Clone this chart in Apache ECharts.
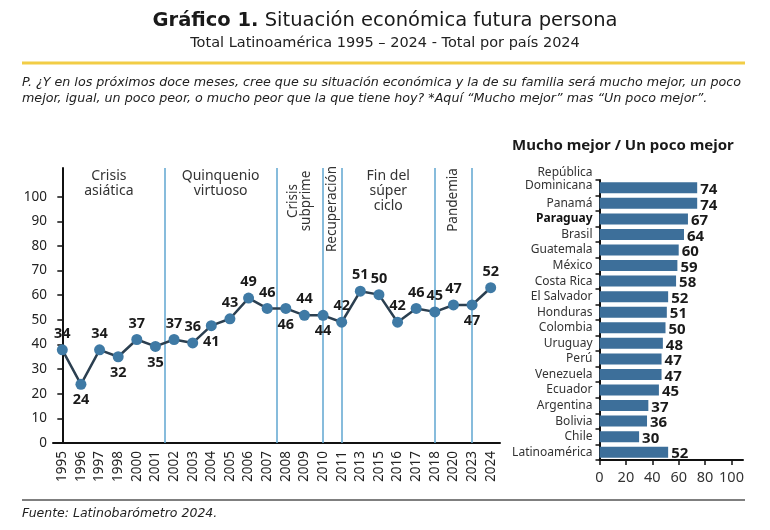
<!DOCTYPE html>
<html>
<head>
<meta charset="utf-8">
<script src="https://cdn.jsdelivr.net/npm/echarts@6/dist/echarts.min.js"></script>
<style>
html,body{margin:0;padding:0;background:#fff;}
#chart{width:770px;height:530px;}
</style>
</head>
<body>
<div id="chart"></div>
<script>
// ---- Data ----
const years = ['1995','1996','1997','1998','2000','2001','2002','2003','2004','2005','2006','2007','2008','2009','2010','2011','2013','2015','2016','2017','2018','2020','2023','2024'];
const latamValues = [34,24,34,32,37,35,37,36,41,43,49,46,46,44,44,42,51,50,42,46,45,47,47,52];
const yTickValues = [0,10,20,30,40,50,60,70,80,90,100];
const periodNames = ['Crisis\nasiática','Quinquenio\nvirtuoso','Crisis\nsubprime','Recuperación','Fin del\nsúper\nciclo','Pandemia'];
// divider positions (in category index units)
const dividers = [5.5, 11.5, 14, 15, 20, 22];
const countries = ['República Dominicana','Panamá','Paraguay','Brasil','Guatemala','México','Costa Rica','El Salvador','Honduras','Colombia','Uruguay','Perú','Venezuela','Ecuador','Argentina','Bolivia','Chile','Latinoamérica'];
const countryValues = [74,74,67,64,60,59,58,52,51,50,48,47,47,45,37,36,30,52];
const barTickValues = [0,20,40,60,80,100];

// ---- Styles (not data) ----
const labelPositions = ['top','bottom','top','bottom','top','bottom','top','top','bottom','top','top','top','bottom','top','bottom','top','top','top','top','top','top','top','bottom','top'];
const periodRotated = [false,false,true,true,false,true];
const rotatedCenterOffset = [0,0,33,41,0,32];

const FONT = 'Noto Sans';
const HFONT = 'DejaVu Sans';
const chart = echarts.init(document.getElementById('chart'), null, {renderer:'canvas'});

const areaBounds = [-0.5].concat(dividers);
const markAreaData = periodNames.map((name, i) => {
  const rot = periodRotated[i];
  return [{
    xAxis: areaBounds[i],
    label: rot ? {
      show: true, formatter: name, rotate: 90, position: ['50%', rotatedCenterOffset[i]],
      align: 'center', verticalAlign: 'middle', fontSize: 13.5, lineHeight: 13, color: '#333', fontFamily: FONT
    } : {
      show: true, formatter: name, position: 'insideTop', distance: 1,
      align: 'center', fontSize: 14, lineHeight: 15, color: '#333', fontFamily: FONT
    }
  }, { xAxis: areaBounds[i+1] }];
});

const option = {
  backgroundColor: '#fff',
  animation: false,
  textStyle: { fontFamily: FONT },
  title: [{
    text: '{b|Gráfico 1.} Situación económica futura persona',
    left: 'center', top: 6,
    textStyle: { fontSize: 19.5, fontWeight: 'normal', color: '#1a1a1a', fontFamily: HFONT,
      rich: { b: { fontSize: 19.5, fontWeight: 'bold', color: '#1a1a1a', fontFamily: HFONT } } },
    subtext: 'Total Latinoamérica 1995 – 2024 - Total por país 2024',
    subtextStyle: { fontSize: 14.5, color: '#222', fontFamily: HFONT },
    itemGap: 5
  }, {
    text: 'Mucho mejor / Un poco mejor',
    left: 507, top: 133,
    textStyle: { fontSize: 15, fontWeight: 'bold', color: '#1a1a1a', fontFamily: FONT }
  }],
  graphic: [
    { type: 'line', shape: { x1: 22, y1: 63, x2: 745, y2: 63 }, style: { stroke: '#f2cd46', lineWidth: 3 } },
    { type: 'text', left: 22, top: 75, style: {
      text: 'P. ¿Y en los próximos doce meses, cree que su situación económica y la de su familia será mucho mejor, un poco\nmejor, igual, un poco peor, o mucho peor que la que tiene hoy? *Aquí “Mucho mejor” mas “Un poco mejor”.',
      font: 'italic 12.7px "DejaVu Sans"', fill: '#222', lineHeight: 16 } },
    { type: 'line', shape: { x1: 22, y1: 500, x2: 745, y2: 500 }, style: { stroke: '#555', lineWidth: 1.5 } },
    { type: 'text', left: 22, top: 507, style: { text: 'Fuente: Latinobarómetro 2024.', font: 'italic 12.5px "DejaVu Sans"', fill: '#222' } }
  ],
  grid: [
    { left: 53, top: 168, width: 447, height: 275 },
    { left: 599.5, top: 180, width: 143.5, height: 280 }
  ],
  xAxis: [{
    gridIndex: 0, type: 'category', data: years, boundaryGap: true,
    axisLine: { lineStyle: { color: '#111', width: 2 } },
    axisTick: { alignWithLabel: true, length: 5, lineStyle: { color: '#111', width: 1.5 } },
    axisLabel: { rotate: 90, fontSize: 13.5, color: '#222', margin: 8, fontFamily: FONT, interval: 0 },
    splitLine: { show: false }
  }, {
    gridIndex: 0, type: 'value', min: -0.5, max: 23.5, show: false
  }, {
    gridIndex: 1, type: 'value', min: 0, max: 108.7,
    axisLine: { show: true, lineStyle: { color: '#111', width: 2 } },
    axisTick: { show: true, length: 5, customValues: barTickValues, lineStyle: { color: '#111', width: 1.5 } },
    axisLabel: { customValues: barTickValues, fontSize: 14.5, color: '#333', margin: 10, fontFamily: FONT },
    splitLine: { show: false }
  }],
  yAxis: [{
    gridIndex: 0, type: 'value', min: 0, max: 111.65,
    axisLine: { show: true, lineStyle: { color: '#111', width: 2 } },
    axisTick: { show: true, length: 5, customValues: yTickValues, lineStyle: { color: '#111', width: 1.5 } },
    axisLabel: { customValues: yTickValues, fontSize: 13.5, color: '#222', margin: 6, fontFamily: FONT },
    splitLine: { show: false }
  }, {
    gridIndex: 0, type: 'value', min: 7, max: 86.7, show: false
  }, {
    gridIndex: 1, type: 'category', data: countries, inverse: true,
    axisLine: { show: true, lineStyle: { color: '#111', width: 2 } },
    axisTick: { show: true, length: 4, lineStyle: { color: '#111', width: 1.5 } },
    axisLabel: {
      fontSize: 12, color: '#333', margin: 7, fontFamily: FONT, interval: 0, lineHeight: 13,
      formatter: v => v === 'Paraguay' ? '{b|Paraguay}' : (v === 'República Dominicana' ? '{d|República\nDominicana}' : v),
      rich: {
        b: { fontWeight: 'bold', color: '#111', fontSize: 12, fontFamily: FONT },
        d: { fontSize: 12, color: '#333', lineHeight: 13, fontFamily: FONT, padding: [0,0,18,0] }
      }
    }
  }],
  series: [{
    type: 'line', xAxisIndex: 1, yAxisIndex: 0, data: [], silent: true,
    markLine: { silent: true, symbol: 'none', label: { show: false },
      lineStyle: { color: '#5fa6d1', width: 1.5, type: 'solid' },
      data: dividers.map(d => ({ xAxis: d })) },
    markArea: { silent: true, itemStyle: { color: 'rgba(0,0,0,0)' }, data: markAreaData }
  }, {
    type: 'line', xAxisIndex: 0, yAxisIndex: 1,
    data: latamValues.map((v, i) => ({ value: v, label: { position: labelPositions[i] } })),
    symbol: 'circle', symbolSize: 11,
    itemStyle: { color: '#3f7aa5' },
    lineStyle: { color: '#2b3f50', width: 2.5 },
    label: { show: true, fontSize: 14.5, fontWeight: 'bold', color: '#1a1a1a', distance: 3, fontFamily: FONT },
    z: 5
  }, {
    type: 'bar', xAxisIndex: 2, yAxisIndex: 2, data: countryValues, barWidth: 11,
    itemStyle: { color: '#3d6f9a' },
    label: { show: true, position: 'right', distance: 3, fontSize: 15, fontWeight: 'bold', color: '#1a1a1a', offset: [0, 2], fontFamily: FONT }
  }]
};
chart.setOption(option);
</script>
</body>
</html>
